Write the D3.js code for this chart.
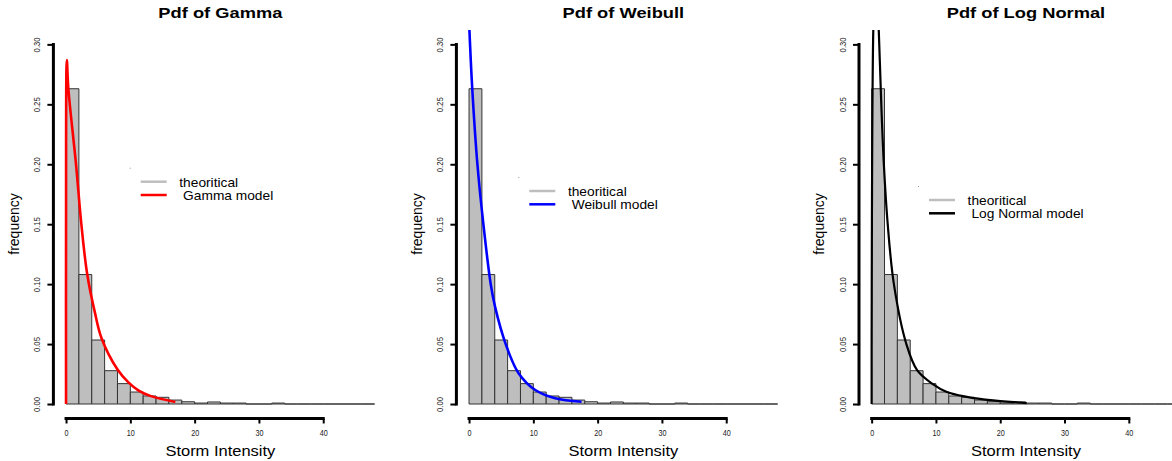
<!DOCTYPE html>
<html>
<head>
<meta charset="utf-8">
<script src="https://cdn.jsdelivr.net/npm/d3@7"></script>
<style>
  body { margin: 0; background: #fff; }
  svg { display: block; }
  text { font-family: "Liberation Sans", Arial, sans-serif; }
</style>
</head>
<body>
<div class="chart"></div>
<script>
var width = 1172,
    height = 461;

// histogram of storm intensity (same sample in every panel), bins of width 2
let binStart = [0, 2, 4, 6, 8, 10, 12, 14, 16, 18, 20, 22, 24, 26, 28, 30, 32, 34, 36, 38, 40, 42, 44, 46];
let binWidth = 2;
let density = [0.263, 0.108, 0.0534, 0.0278, 0.017, 0.010, 0.0067, 0.0056, 0.0033, 0.0019, 0.0008, 0.0017,
               0.0008, 0.0008, 0, 0, 0.0008, 0, 0, 0, 0, 0, 0, 0];

let yTicks = [0, 0.05, 0.10, 0.15, 0.20, 0.25, 0.30];
let yTickLabels = ["0.00", "0.05", "0.10", "0.15", "0.20", "0.25", "0.30"];
let xTicks = [0, 10, 20, 30, 40];

// fitted densities
let gammaX = [0, 0, 0.12, 0.36, 1.55, 2.38, 3.3, 4.5, 5.55, 7.98, 9.7, 11.3, 13.1, 17];
let gammaY = [0, 0.143, 0.287, 0.263, 0.20, 0.15, 0.108, 0.076, 0.0545, 0.029, 0.018, 0.0112, 0.0068, 0.0017];

let weibullX = [0.05, 0.5, 1.3, 2.23, 3.37, 4.05, 5.7, 7.7, 10.3, 13.4, 17.5];
let weibullY = [0.313, 0.263, 0.20, 0.15, 0.10, 0.081, 0.05, 0.0257, 0.0117, 0.0048, 0.0019];

let lognormX = [0, 0, 0.26, 0.65, 1.1, 1.5, 1.9, 2.5, 3.46, 5.4, 7.1, 9.4, 11.7, 14.8, 18.9, 24.1];
let lognormY = [0, 0.056, 0.313, 0.37, 0.313, 0.25, 0.20, 0.15, 0.10, 0.05, 0.028, 0.017, 0.01, 0.006, 0.003, 0.0008];

let titles = ["Pdf of Gamma", "Pdf of Weibull", "Pdf of Log Normal"];
let modelNames = [" Gamma model", " Weibull model", " Log Normal model"];
let modelColors = ["#ff0000", "#0000ff", "#000000"];
let modelWidths = [2.6, 2.6, 2.2];
let curvesX = [gammaX, weibullX, lognormX];
let curvesY = [gammaY, weibullY, lognormY];

// layout of the three panels
let plotLeft = [53.7, 456.7, 859.3];
let plotW = 333.3,
    plotTop = 30,
    plotBottom = 418.4;
let legendX = [87, 72.6, 69.7];
let legendY = [181.7, 191, 200];

let svg = d3.select(".chart")
    .append("svg")
    .attr("width", width)
    .attr("height", height);

titles.forEach(function(title, p){

    let left = plotLeft[p];

    let x = d3.scaleLinear()
        .domain([-1.92, 49.92])
        .range([left, left + plotW]);

    let y = d3.scaleLinear()
        .domain([-0.012, 0.312])
        .range([plotBottom, plotTop]);

    let g = svg.append("g").attr("class", "panel");

    g.append("clipPath")
        .attr("id", "clip" + p)
        .append("rect")
        .attr("x", left)
        .attr("y", plotTop)
        .attr("width", plotW)
        .attr("height", plotBottom - plotTop);

    // bars (paths so that empty bins still show as a line)
    g.selectAll(".bar")
        .data(density)
        .join("path")
        .attr("class", "bar")
        .attr("d", function(d, i){
            let x0 = x(binStart[i]), x1 = x(binStart[i] + binWidth);
            let y0 = y(0), y1 = y(d);
            return `M${x0},${y0}V${y1}H${x1}V${y0}Z`;
        })
        .attr("fill", "#bebebe")
        .attr("stroke", "#333")
        .attr("stroke-width", 1);

    // model curve
    let pts = curvesX[p].map(function(v, i){ return [v, curvesY[p][i]]; });
    let line = d3.line()
        .x(d => x(d[0]))
        .y(d => y(d[1]))
        .curve(d3.curveCatmullRom.alpha(0.5));

    g.append("path")
        .datum(pts)
        .attr("clip-path", "url(#clip" + p + ")")
        .attr("d", line)
        .attr("fill", "none")
        .attr("stroke", modelColors[p])
        .attr("stroke-width", modelWidths[p])
        .attr("stroke-linejoin", "round");

    // y axis
    let yAxis = g.append("g")
        .attr("transform", `translate(${left - 0.3},0)`)
        .call(d3.axisLeft(y).tickValues(yTicks).tickSize(6).tickFormat((d, i) => yTickLabels[i]));
    yAxis.select(".domain").remove();
    yAxis.selectAll(".tick line").attr("stroke", "#000").attr("stroke-width", 2);
    yAxis.selectAll(".tick text")
        .attr("x", 0)
        .attr("dy", 0)
        .attr("transform", "translate(-13,0) rotate(-90)")
        .attr("text-anchor", "middle")
        .attr("font-size", 9.5)
        .attr("font-family", null)
        .attr("textLength", 15)
        .attr("lengthAdjust", "spacingAndGlyphs")
        .attr("fill", "#222");
    yAxis.append("line")
        .attr("x1", 0).attr("x2", 0)
        .attr("y1", y(0)).attr("y2", y(0.30))
        .attr("stroke", "#000")
        .attr("stroke-width", 3)
        .attr("stroke-linecap", "square");

    // x axis
    let xAxis = g.append("g")
        .attr("transform", "translate(0,418.5)")
        .call(d3.axisBottom(x).tickValues(xTicks).tickSize(5));
    xAxis.select(".domain").remove();
    xAxis.selectAll(".tick line").attr("stroke", "#000").attr("stroke-width", 2);
    xAxis.selectAll(".tick text")
        .attr("y", 18)
        .attr("dy", 0)
        .attr("transform", "scale(0.85,1)")
        .attr("font-size", 8.5)
        .attr("font-family", null)
        .attr("fill", "#222");
    xAxis.append("line")
        .attr("x1", x(0)).attr("x2", x(40))
        .attr("y1", 0).attr("y2", 0)
        .attr("stroke", "#000")
        .attr("stroke-width", 3)
        .attr("stroke-linecap", "square");

    // titles and axis labels
    let cx = left + plotW / 2;
    g.append("text")
        .attr("transform", `translate(${cx},17.5) scale(1.22,1)`)
        .attr("text-anchor", "middle")
        .style("font-size", "15px")
        .style("font-weight", "bold")
        .text(title);

    g.append("text")
        .attr("transform", `translate(${cx},455.5) scale(1.1,1)`)
        .attr("text-anchor", "middle")
        .style("font-size", "15px")
        .text("Storm Intensity");

    g.append("text")
        .attr("transform", `translate(${left - 35},224) rotate(-90)`)
        .attr("text-anchor", "middle")
        .style("font-size", "14px")
        .text("frequency");

    // legend
    let lx = left + legendX[p], ly = legendY[p];
    g.append("rect")
        .attr("x", lx - 11).attr("y", ly - 14)
        .attr("width", 1).attr("height", 1)
        .attr("fill", "#999");

    let entries = [
        {label: "theoritical", color: "#bebebe"},
        {label: modelNames[p], color: modelColors[p]}
    ];
    entries.forEach(function(e, i){
        let yy = ly + i * 13.3;
        g.append("line")
            .attr("x1", lx).attr("x2", lx + 26)
            .attr("y1", yy).attr("y2", yy)
            .attr("stroke", e.color)
            .attr("stroke-width", 2.5);
        g.append("text")
            .attr("transform", `translate(${lx + 38.6},${yy + 5}) scale(1.1,1)`)
            .style("font-size", "12.5px")
            .style("white-space", "pre")
            .text(e.label);
    });
});
</script>
</body>
</html>
